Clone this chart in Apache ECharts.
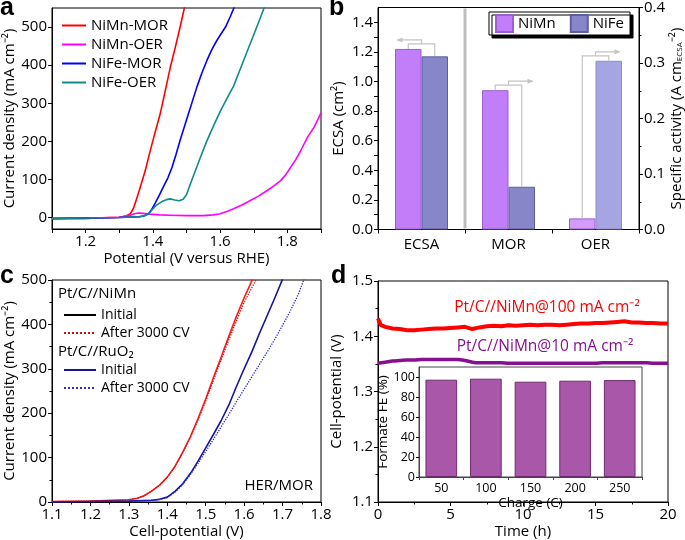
<!DOCTYPE html>
<html><head><meta charset="utf-8">
<script src="https://cdn.jsdelivr.net/npm/echarts@6/dist/echarts.min.js"></script>
<style>html,body{margin:0;padding:0;background:#fff}#c{width:685px;height:540px}</style>
</head><body><div id="c"></div>
<script>
// ---------- Panel a: LSV curves [potential V, current mA cm-2] ----------
const aNiMnMOR = [[1.10,-3],[1.20,-2],[1.30,1],[1.32,4],[1.333,10],[1.342,24],[1.352,50],[1.362,78],[1.377,122],[1.392,175],[1.407,225],[1.422,273],[1.437,334],[1.452,395],[1.467,448],[1.481,500],[1.499,571]];
const aNiMnOER = [[1.10,-3],[1.20,-2],[1.30,1],[1.33,5],[1.345,10],[1.357,12],[1.37,11],[1.39,9],[1.42,7],[1.45,6],[1.50,5],[1.55,5],[1.58,7],[1.60,10],[1.62,16],[1.64,23],[1.665,33],[1.69,45],[1.715,57],[1.74,71],[1.76,83],[1.78,97],[1.795,112],[1.81,132],[1.825,152],[1.84,176],[1.86,211],[1.88,238],[1.90,275]];
const aNiFeMOR = [[1.10,-2],[1.20,-1],[1.30,0],[1.36,2],[1.375,5],[1.387,10],[1.397,22],[1.407,38],[1.42,60],[1.432,82],[1.445,105],[1.457,132],[1.469,166],[1.481,203],[1.506,273],[1.531,343],[1.546,380],[1.561,413],[1.576,442],[1.591,466],[1.616,500],[1.63,527],[1.642,552]];
const aNiFeOER = [[1.10,-2],[1.20,-1],[1.30,0],[1.36,2],[1.375,5],[1.387,10],[1.397,20],[1.41,32],[1.427,42],[1.44,47],[1.452,49],[1.465,46],[1.478,44],[1.49,48],[1.50,60],[1.51,85],[1.52,108],[1.54,155],[1.56,200],[1.58,240],[1.60,278],[1.62,312],[1.64,345],[1.66,390],[1.68,435],[1.70,480],[1.72,525],[1.735,560]];
const aXLabels = [1.2,1.4,1.6,1.8];
const aXTicks = [1.1,1.2,1.3,1.4,1.5,1.6,1.7,1.8,1.9];
const aYLabels = [0,100,200,300,400,500];

// ---------- Panel b: ECSA & specific activity ----------
const bCategories = ['ECSA','MOR','OER'];
const bEcsaNiMn = [1.22, null, null];           // cm2 (left axis)
const bEcsaNiFe = [1.17, null, null];
const bActNiMn = [null, 0.251, 0.020];          // A cm-2 ECSA (right axis)
const bActNiFe = [null, 0.077, 0.304];
const bLeftLabels = [0,0.2,0.4,0.6,0.8,1.0,1.2,1.4];
const bLeftTicks = [0,0.1,0.2,0.3,0.4,0.5,0.6,0.7,0.8,0.9,1.0,1.1,1.2,1.3,1.4];

// ---------- Panel c: two-electrode polarization ----------
const cNiMnInit = [[1.10,1],[1.20,2],[1.30,5],[1.32,8],[1.34,14],[1.36,25],[1.38,38],[1.40,56],[1.42,80],[1.44,112],[1.46,147],[1.48,188],[1.50,232],[1.52,280],[1.54,326],[1.56,373],[1.58,418],[1.60,460],[1.622,502]];
const cNiMnAfter = [[1.10,1],[1.20,2],[1.30,5],[1.32,8],[1.34,14],[1.36,25],[1.38,38],[1.40,56],[1.42,80],[1.44,111],[1.46,145],[1.48,185],[1.50,228],[1.52,274],[1.54,320],[1.56,365],[1.58,408],[1.60,450],[1.632,502]];
const cRuInit = [[1.10,0],[1.20,1],[1.30,2],[1.36,4],[1.38,6],[1.40,11],[1.42,24],[1.44,41],[1.46,64],[1.48,92],[1.50,122],[1.52,152],[1.54,183],[1.56,218],[1.58,260],[1.60,300],[1.62,338],[1.64,380],[1.66,420],[1.68,460],[1.70,502]];
const cRuAfter = [[1.10,0],[1.30,2],[1.36,4],[1.38,6],[1.40,10],[1.42,22],[1.44,39],[1.46,62],[1.48,87],[1.50,114],[1.52,141],[1.54,169],[1.56,197],[1.58,226],[1.60,254],[1.62,282],[1.64,310],[1.66,338],[1.68,367],[1.70,398],[1.72,430],[1.74,466],[1.756,502]];

// ---------- Panel d: chronopotentiometry [h, V] ----------
const dTime = [0,0.2,0.5,1,1.5,2,2.5,3,3.5,4,4.5,5,5.5,6,6.5,7,7.5,8,8.5,9,9.5,10,10.5,11,11.5,12,12.5,13,13.5,14,14.5,15,15.5,16,16.5,17,17.5,18,18.5,19,19.5,20];
const d100 = [1.432,1.420,1.417,1.414,1.413,1.411,1.411,1.412,1.413,1.414,1.414,1.415,1.416,1.417,1.413,1.416,1.418,1.419,1.418,1.420,1.419,1.420,1.421,1.420,1.421,1.421,1.420,1.421,1.422,1.423,1.423,1.424,1.424,1.425,1.426,1.427,1.425,1.425,1.424,1.424,1.423,1.423];
const d10 = [1.351,1.352,1.353,1.355,1.356,1.357,1.357,1.358,1.358,1.358,1.358,1.358,1.358,1.356,1.353,1.352,1.352,1.352,1.352,1.351,1.351,1.351,1.351,1.351,1.351,1.351,1.351,1.351,1.351,1.351,1.351,1.351,1.352,1.352,1.352,1.352,1.352,1.352,1.352,1.351,1.351,1.351];
// inset: formate Faradaic efficiency
const insetCharge = ['50','100','150','200','250'];
const insetFE = [97.3, 98.3, 95.3, 96.3, 96.9];
const insetYLabels = [0,20,40,60,80,100];

const F = 'Open Sans';
const chart = echarts.init(document.getElementById('c'));

function vaxis(extra){
  const base = {
    type:'value', nameLocation:'middle',
    axisLine:{show:true,onZero:false,lineStyle:{color:'#000',width:1}},
    axisTick:{show:true,inside:false,length:4,lineStyle:{color:'#000'}},
    minorTick:{show:false},
    axisLabel:{color:'#000',fontSize:15,fontFamily:F,margin:5},
    splitLine:{show:false},
    nameTextStyle:{color:'#000',fontSize:15,fontFamily:F}
  };
  for (const k in extra){
    if (base[k] && typeof base[k]==='object' && !Array.isArray(base[k]) && typeof extra[k]==='object' && !Array.isArray(extra[k])) base[k] = Object.assign({}, base[k], extra[k]);
    else base[k] = extra[k];
  }
  return base;
}
const f1 = v => (+v).toFixed(1);
const lineS = (name, data, xi, yi, color, width, type) => ({
  name, type:'line', xAxisIndex:xi, yAxisIndex:yi, data, symbol:'none',
  smooth:false, clip:true,
  lineStyle:{color, width, type: type||'solid', join:'round'}, itemStyle:{color}
});
const noSym = {opacity:0};

const option = {
  animation:false,
  backgroundColor:'#fff',
  textStyle:{fontFamily:F},
  grid:[
    {left:52, top:8, width:269, height:221, show:true, borderColor:'#000', borderWidth:1},
    {left:378, top:7.5, width:264, height:222, show:true, borderColor:'#000', borderWidth:1},
    {left:52, top:280, width:269, height:222, show:true, borderColor:'#000', borderWidth:1},
    {left:378, top:281, width:290, height:221, show:true, borderColor:'#000', borderWidth:1},
    {left:419, top:367, width:223, height:110, show:true, borderColor:'#444', borderWidth:1, backgroundColor:'#fff'}
  ],
  xAxis:[
    vaxis({gridIndex:0, min:1.1, max:1.9, interval:0.1, name:'Potential (V versus RHE)', nameGap:22,
      axisLabel:{customValues:aXLabels, formatter:f1}, axisTick:{customValues:aXTicks}}),
    {type:'category', gridIndex:1, data:bCategories,
      axisLine:{lineStyle:{color:'#000'}}, axisTick:{show:true,alignWithLabel:false,length:4,lineStyle:{color:'#000'}},
      axisLabel:{color:'#000',fontSize:15,fontFamily:F,margin:8}},
    vaxis({gridIndex:2, min:1.1, max:1.8, interval:0.1, name:'Cell-potential (V)', nameGap:22,
      axisLabel:{formatter:f1}, minorTick:{show:true,splitNumber:2,length:2.5,lineStyle:{color:'#000'}}}),
    vaxis({gridIndex:3, min:0, max:20, interval:5, name:'Time (h)', nameGap:22,
      minorTick:{show:true,splitNumber:2,length:2.5,lineStyle:{color:'#000'}}}),
    {type:'category', gridIndex:4, data:insetCharge, name:'Charge (C)', nameLocation:'middle', nameGap:17,
      nameTextStyle:{color:'#000',fontSize:13.5,fontFamily:F},
      axisLine:{lineStyle:{color:'#444'}}, axisTick:{show:true,alignWithLabel:false,length:3,lineStyle:{color:'#444'}},
      axisLabel:{color:'#000',fontSize:12.5,fontFamily:F,margin:5}},
    {type:'category', gridIndex:1, data:bCategories, show:false}
  ],
  yAxis:[
    vaxis({gridIndex:0, min:-30, max:550, name:'Current density (mA cm⁻²)', nameGap:34, nameRotate:90,
      axisLabel:{customValues:aYLabels}, axisTick:{customValues:aYLabels}}),
    vaxis({gridIndex:1, min:0, max:1.5, name:'ECSA (cm²)', nameGap:32, nameRotate:90,
      axisLabel:{customValues:bLeftLabels, formatter:f1}, axisTick:{customValues:bLeftTicks}}),
    vaxis({gridIndex:1, position:'right', min:0, max:0.4, interval:0.1, nameRotate:90, nameGap:30,
      name:'Specific activity (A cm{sub|ECSA}⁻²)',
      nameTextStyle:{rich:{sub:{fontSize:8,fontFamily:F,color:'#000',padding:[6,0,0,0]}}},
      axisLabel:{formatter:f1}, minorTick:{show:true,splitNumber:2,length:2.5,lineStyle:{color:'#000'}}}),
    vaxis({gridIndex:2, min:0, max:500, interval:100, name:'Current density (mA cm⁻²)', nameGap:34, nameRotate:90,
      minorTick:{show:true,splitNumber:2,length:2.5,lineStyle:{color:'#000'}}}),
    vaxis({gridIndex:3, min:1.1, max:1.5, interval:0.1, name:'Cell-potential (V)', nameGap:34, nameRotate:90,
      axisLabel:{formatter:f1}, minorTick:{show:true,splitNumber:2,length:2.5,lineStyle:{color:'#000'}}}),
    vaxis({gridIndex:4, min:0, max:110, name:'Formate FE (%)', nameGap:27, nameRotate:90,
      nameTextStyle:{fontSize:13.5},
      axisLine:{lineStyle:{color:'#444'}},
      axisLabel:{customValues:insetYLabels, fontSize:12.5, margin:4}, axisTick:{customValues:insetYLabels, length:3}})
  ],
  legend:[
    {left:56, top:13, orient:'vertical', itemWidth:24, itemHeight:14, itemGap:4,
      itemStyle:noSym,
      textStyle:{fontSize:15,fontFamily:F,color:'#000'},
      data:['NiMn-MOR','NiMn-OER','NiFe-MOR','NiFe-OER']},
    {left:489, top:12, width:144, orient:'horizontal', itemWidth:17, itemHeight:17, itemGap:14, icon:'rect',
      padding:[2,6,2,6], backgroundColor:'#fff', borderColor:'#000', borderWidth:1,
      shadowColor:'#000', shadowBlur:0, shadowOffsetX:3, shadowOffsetY:3,
      textStyle:{fontSize:15,fontFamily:F,color:'#000'},
      data:['NiMn','NiFe']},
    {left:58, top:303, orient:'vertical', itemWidth:32, itemHeight:14, itemGap:4,
      itemStyle:noSym,
      textStyle:{fontSize:14,fontFamily:F,color:'#000'},
      formatter: n => n.replace(/^\S+ /,''),
      data:[{name:'NiMn Initial', lineStyle:{color:'#000'}}, 'NiMn After 3000 CV']},
    {left:58, top:358, orient:'vertical', itemWidth:32, itemHeight:14, itemGap:4,
      itemStyle:noSym,
      textStyle:{fontSize:14,fontFamily:F,color:'#000'},
      formatter: n => n.replace(/^\S+ /,''),
      data:['RuO2 Initial','RuO2 After 3000 CV']}
  ],
  series:[
    lineS('NiMn-MOR', aNiMnMOR, 0, 0, '#ff0000', 1.6),
    lineS('NiMn-OER', aNiMnOER, 0, 0, '#ff00ff', 1.6),
    lineS('NiFe-MOR', aNiFeMOR, 0, 0, '#0000ff', 1.6),
    lineS('NiFe-OER', aNiFeOER, 0, 0, '#118a8a', 1.6),
    {name:'NiMn', type:'bar', xAxisIndex:1, yAxisIndex:1, data:bEcsaNiMn, barWidth:26.5, barGap:'0%',
      itemStyle:{color:'#c27ef8', borderColor:'#9b5fd0', borderWidth:1}},
    {name:'NiFe', type:'bar', xAxisIndex:1, yAxisIndex:1, data:bEcsaNiFe, barWidth:26.5, barGap:'0%',
      itemStyle:{color:'#8686c9', borderColor:'#5f5fa0', borderWidth:1}},
    {name:'NiMn', type:'bar', xAxisIndex:5, yAxisIndex:2, data:bActNiMn.map((v,i)=> i===2 ? {value:v, itemStyle:{color:'#d39cfa'}} : v), barWidth:26.5, barGap:'0%',
      itemStyle:{color:'#c27ef8', borderColor:'#9b5fd0', borderWidth:1}},
    {name:'NiFe', type:'bar', xAxisIndex:5, yAxisIndex:2, data:bActNiFe.map((v,i)=> i===2 ? {value:v, itemStyle:{color:'#a5a5e2', borderColor:'#8e8ec8'}} : v), barWidth:26.5, barGap:'0%',
      itemStyle:{color:'#8686c9', borderColor:'#5f5fa0', borderWidth:1}},
    lineS('NiMn Initial', cNiMnInit, 2, 3, '#ff1a1a', 1.6),
    lineS('NiMn After 3000 CV', cNiMnAfter, 2, 3, '#d01010', 1.3, 'dotted'),
    lineS('RuO2 Initial', cRuInit, 2, 3, '#1414a0', 1.6),
    lineS('RuO2 After 3000 CV', cRuAfter, 2, 3, '#2a2ad0', 1.3, 'dotted'),
    {name:'100', type:'line', xAxisIndex:3, yAxisIndex:4, data:dTime.map((t,i)=>[t,d100[i]]), symbol:'none',
      lineStyle:{color:'#ff0000', width:4}},
    {name:'10', type:'line', xAxisIndex:3, yAxisIndex:4, data:dTime.map((t,i)=>[t,d10[i]]), symbol:'none', smooth:0.3,
      lineStyle:{color:'#86108f', width:3.5}},
    {name:'FE', type:'bar', xAxisIndex:4, yAxisIndex:5, data:insetFE, barCategoryGap:'29%',
      itemStyle:{color:'#a957a9', borderColor:'#6e2c6e', borderWidth:1}}
  ],
  graphic:[
    {type:'text', left:0, top:-4, style:{text:'a', font:'bold 25px "Liberation Sans"', fill:'#000'}},
    {type:'text', left:329, top:-4, style:{text:'b', font:'bold 25px "Liberation Sans"', fill:'#000'}},
    {type:'text', left:0, top:264, style:{text:'c', font:'bold 25px "Liberation Sans"', fill:'#000'}},
    {type:'text', left:331, top:264, style:{text:'d', font:'bold 25px "Liberation Sans"', fill:'#000'}},
    {type:'text', left:58, top:286, style:{text:'Pt/C//NiMn', font:'15px "Open Sans"', fill:'#000'}},
    {type:'text', left:58, top:344, style:{text:'Pt/C//RuO₂', font:'15px "Open Sans"', fill:'#000'}},
    {type:'text', right:372, top:478, style:{text:'HER/MOR', font:'15px "Open Sans"', fill:'#000'}},
    {type:'text', x:547, y:308, style:{text:'Pt/C//NiMn@100 mA cm⁻²', font:'15.5px "Open Sans"', fill:'#ff0000', align:'center', verticalAlign:'middle'}},
    {type:'text', x:545, y:347, style:{text:'Pt/C//NiMn@10 mA cm⁻²', font:'15.5px "Open Sans"', fill:'#86108f', align:'center', verticalAlign:'middle'}}
  ]
};
chart.setOption(option);

// decorations in panel b: separator and bracket arrows, located through the axes
(function(){
  const bw = 26.5;
  const px = (cat, val, yi) => chart.convertToPixel({xAxisIndex:1, yAxisIndex:yi}, [cat, val]);
  const g = [];
  const c0 = px(0, 0, 1), c1 = px(1, 0, 1);
  const sepX = (c0[0] + c1[0]) / 2;
  const topY = px(0, 1.5, 1)[1];
  g.push({type:'line', shape:{x1:sepX, y1:topY+1, x2:sepX, y2:c0[1]-1}, style:{stroke:'#bdbdbd', lineWidth:3}, z:5});
  const groups = [
    {i:0, mn:bEcsaNiMn[0], fe:bEcsaNiFe[0], yi:1, dir:-1},
    {i:1, mn:bActNiMn[1], fe:bActNiFe[1], yi:2, dir:1},
    {i:2, mn:bActNiMn[2], fe:bActNiFe[2], yi:2, dir:1}
  ];
  const col = '#c4c4c4';
  groups.forEach(o => {
    const a = px(o.i, o.mn, o.yi), b = px(o.i, o.fe, o.yi);
    const xa = a[0] - bw/2, xb = b[0] + bw/2;
    const top = Math.min(a[1], b[1]) - 5;
    const mid = (xa + xb) / 2;
    const ay = top - 4, end = mid + o.dir*24;
    g.push({type:'polyline', shape:{points:[[xa,a[1]],[xa,top],[xb,top],[xb,b[1]]]}, style:{stroke:col, lineWidth:1.2, fill:null}, z:5});
    g.push({type:'polyline', shape:{points:[[mid,top],[mid,ay],[end,ay]]}, style:{stroke:col, lineWidth:1.2, fill:null}, z:5});
    g.push({type:'polygon', shape:{points:[[end+o.dir*1,ay],[end-o.dir*5,ay-2.5],[end-o.dir*5,ay+2.5]]}, style:{fill:col}, z:5});
  });
  chart.setOption({graphic: option.graphic.concat(g)});
})();
</script>
</body></html>
